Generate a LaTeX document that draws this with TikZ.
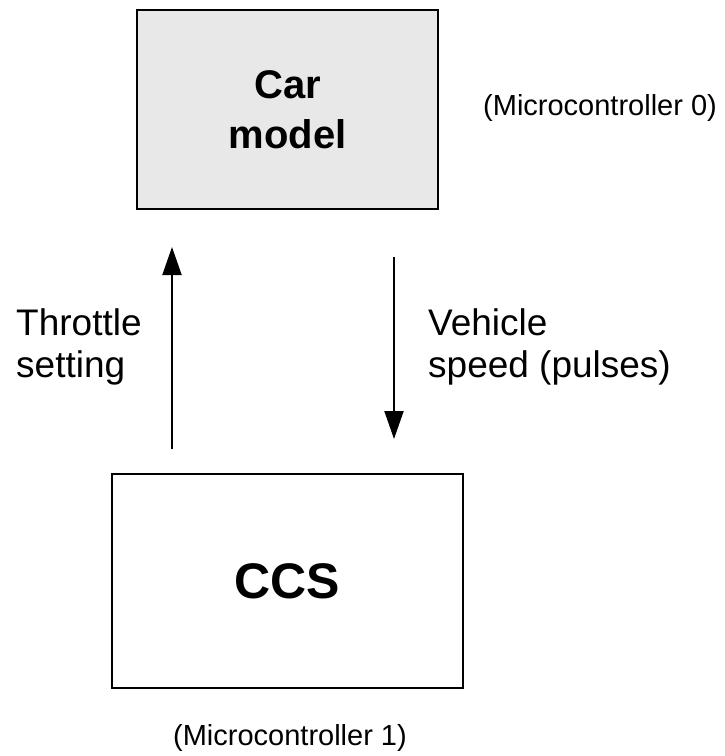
\documentclass[tikz,border=0pt]{standalone}
\usepackage{fontspec}
\setmainfont{Liberation Sans}
\usetikzlibrary{arrows.meta}
\definecolor{carfill}{RGB}{232,232,232}
\tikzset{
  blockbox/.style={draw=black, line width=2pt, inner sep=0pt, align=center},
  flowarrow/.style={line width=2pt, -{Triangle[length=28pt,width=19pt]}},
  lbl/.style={inner sep=0pt, font=\fontsize{37}{42}\selectfont},
  mclbl/.style={inner sep=0pt, font=\fontsize{29}{34}\selectfont}
}
\begin{document}
\begin{tikzpicture}[x=1pt,y=-1pt]
\useasboundingbox (0,0) rectangle (725,756);
\node[blockbox, fill=carfill, minimum width=301pt, minimum height=199pt,
      font=\fontsize{40}{50}\bfseries\selectfont] (car) at (287.5,109.5) {Car\\model};
\node[blockbox, fill=white, minimum width=351pt, minimum height=214pt,
      font=\fontsize{50}{60}\bfseries\selectfont] (ccs) at (287.5,581) {CCS};
\node[mclbl, anchor=base west] (mc0) at (483,115) {(Microcontroller 0)};
\node[mclbl, anchor=base] (mc1) at (290,745) {(Microcontroller 1)};
\node[lbl, anchor=base west] (thr1) at (16,335) {Throttle};
\node[lbl, anchor=base west] (thr2) at (16,377) {setting};
\node[lbl, anchor=base west] (veh1) at (428,335) {Vehicle};
\node[lbl, anchor=base west] (veh2) at (428,377) {speed (pulses)};
\coordinate (upstart) at (172,449);
\coordinate (upend) at (172,247);
\coordinate (downstart) at (394,257);
\coordinate (downend) at (394,439);
\draw[flowarrow] (upstart) -- (upend);
\draw[flowarrow] (downstart) -- (downend);
\end{tikzpicture}
\end{document}
